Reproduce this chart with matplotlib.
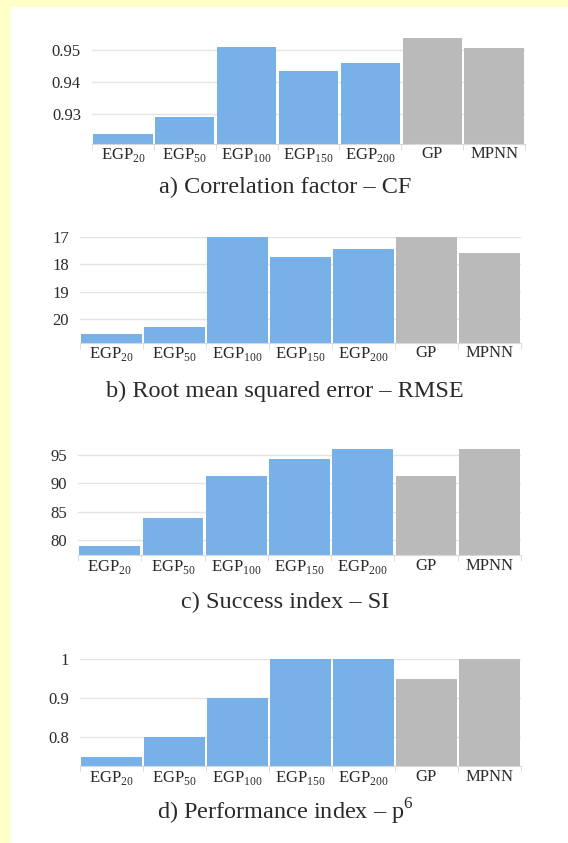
from matplotlib import pyplot as plt
from matplotlib.patches import Rectangle
import numpy as np

# model names and scores
models = ['EGP$_{\\mathrm{20}}$', 'EGP$_{\\mathrm{50}}$', 'EGP$_{\\mathrm{100}}$',
          'EGP$_{\\mathrm{150}}$', 'EGP$_{\\mathrm{200}}$', 'GP', 'MPNN']
cf = [0.9237, 0.9291, 0.9511, 0.9434, 0.9461, 0.9540, 0.9508]
rmse = [20.52, 20.26, 17.0, 17.72, 17.42, 17.0, 17.57]
si = [78.9, 83.8, 91.35, 94.25, 96.05, 91.35, 96.05]
pi = [0.75, 0.80, 0.90, 1.0, 1.0, 0.95, 1.0]

cf_ticks = [0.93, 0.94, 0.95]
rmse_ticks = [17, 18, 19, 20]
si_ticks = [80, 85, 90, 95]
pi_ticks = [0.8, 0.9, 1]

titles = ['a) Correlation factor \u2013 CF',
          'b) Root mean squared error \u2013 RMSE',
          'c) Success index \u2013 SI',
          'd) Performance index \u2013 p$^{\\mathrm{6}}$']

plt.rcParams['font.family'] = ['Liberation Serif', 'DejaVu Serif']
plt.rcParams['mathtext.fontset'] = 'custom'
plt.rcParams['mathtext.rm'] = 'Liberation Serif'

W, H = 568, 843
BLUE = '#78b1e7'
GRAY = '#bababa'
GRID = '#e4e4e4'
TXT = '#2a2a2a'

fig = plt.figure(figsize=(W / 100, H / 100), dpi=100)
fig.patch.set_facecolor('#ffffc8')
fig.patches.append(Rectangle((11 / W, 0), 1, (H - 7) / H, transform=fig.transFigure,
                             facecolor='white', edgecolor='none', zorder=-5))


def px_axes(left, right, top, bottom):
    return fig.add_axes([left / W, 1 - bottom / H, (right - left) / W, (bottom - top) / H])


# left, right, top, bottom in pixels; ylim; ticks; title y
panels = [
    (cf, (92, 525, 37, 143.5), (0.9207, 0.9542), cf_ticks, ['0.93', '0.94', '0.95'], 187),
    (rmse, (80, 521, 237, 342.5), (20.84, 17.0), rmse_ticks, ['17', '18', '19', '20'], 391),
    (si, (78, 521, 449, 555), (77.3, 96.1), si_ticks, ['80', '85', '90', '95'], 602),
    (pi, (80, 521, 659, 766), (0.726, 1.0), pi_ticks, ['0.8', '0.9', '1'], 812),
]

colors = [BLUE] * 5 + [GRAY] * 2
x = np.arange(len(models))

for (vals, box, ylim, ticks, tlabels, ty), title in zip(panels, titles):
    ax = px_axes(*box)
    ax.set_facecolor('white')
    base = ylim[0]
    ax.bar(x, np.array(vals) - base, bottom=base, width=0.96, color=colors, zorder=2)
    ax.set_xlim(-0.5, len(models) - 0.5)
    ax.set_ylim(*ylim)
    ax.set_yticks(ticks)
    ax.set_yticklabels(tlabels)
    ax.yaxis.grid(True, color=GRID, linewidth=1, zorder=0)
    ax.set_axisbelow(True)
    for s in ['top', 'right', 'left']:
        ax.spines[s].set_visible(False)
    ax.spines['bottom'].set_color('#d8d8d8')
    ax.spines['bottom'].set_zorder(3)
    ax.set_xticks(x)
    ax.set_xticklabels(models)
    ax.set_xticks(np.arange(len(models) + 1) - 0.5, minor=True)
    ax.tick_params(axis='x', which='major', length=0, pad=2, labelsize=12, colors=TXT)
    ax.tick_params(axis='x', which='minor', length=4, color='#d8d8d8')
    ax.tick_params(axis='y', length=0, pad=8, labelsize=12, colors=TXT)
    fig.text(285 / W, 1 - ty / H, title, ha='center', va='center',
             fontsize=17.5, color=TXT)

fig.savefig('out.png', dpi=100, facecolor=fig.get_facecolor())
